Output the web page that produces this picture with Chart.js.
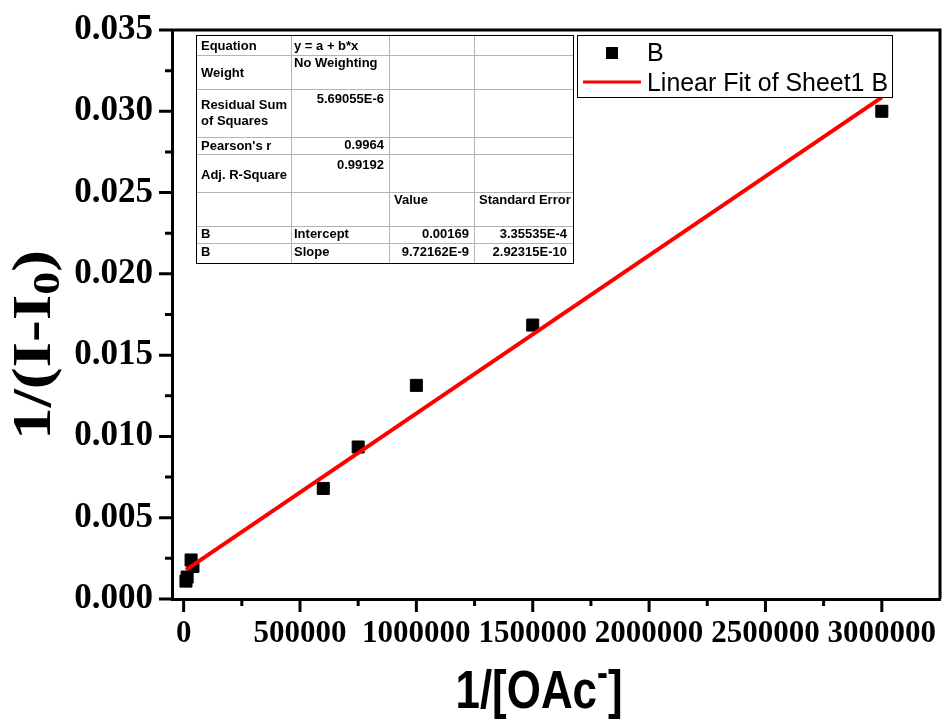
<!DOCTYPE html>
<html>
<head>
<meta charset="utf-8">
<script src="https://cdn.jsdelivr.net/npm/chart.js@4.4.1/dist/chart.umd.min.js"></script>
<style>
  html, body { margin: 0; padding: 0; background: #fff; }
  #wrap { width: 944px; height: 722px; }
</style>
</head>
<body>
<div id="wrap"><canvas id="fitChart" width="944" height="722"></canvas></div>
<script>
const xValues = [10000, 15000, 32000, 40000, 600000, 750000, 1000000, 1500000, 3000000];
const yValues = [0.00110, 0.00135, 0.00240, 0.00200, 0.00680, 0.00935, 0.01314, 0.01685, 0.03000];

// linear fit end points
const fitX = [10000, 3000000];
const fitY = [0.00179, 0.03086];

// ticks
const xTicks = [0, 500000, 1000000, 1500000, 2000000, 2500000, 3000000];
const xMinorTicks = [250000, 750000, 1250000, 1750000, 2250000, 2750000];
const yTicks = [0, 0.005, 0.010, 0.015, 0.020, 0.025, 0.030, 0.035];
const yMinorTicks = [0.0025, 0.0075, 0.0125, 0.0175, 0.0225, 0.0275, 0.0325];

// fit report table
const tableText = [
    ['Equation', 'y = a + b*x', '', ''],
    ['Weight', 'No Weighting', '', ''],
    ['Residual Sum|of Squares', '5.69055E-6', '', ''],
    ["Pearson's r", '0.9964', '', ''],
    ['Adj. R-Square', '0.99192', '', ''],
    ['', '', 'Value', 'Standard Error'],
    ['B', 'Intercept', '0.00169', '3.35535E-4'],
    ['B', 'Slope', '9.72162E-9', '2.92315E-10']
];
const legendLabels = ['B', 'Linear Fit of Sheet1 B'];

const points = xValues.map((x, i) => ({ x: x, y: yValues[i] }));
const fitLine = fitX.map((x, i) => ({ x: x, y: fitY[i] }));

// draw runs of text, centred on x, squeezed/stretched to a width
function drawRuns(ctx, runs, x, y, targetW) {
    let w = 0;
    runs.forEach(r => { ctx.font = r.font; r.w = ctx.measureText(r.t).width; w += r.w; });
    const s = targetW ? targetW / w : 1;
    ctx.save();
    ctx.translate(x, y);
    ctx.scale(s, 1);
    ctx.textAlign = 'left';
    ctx.textBaseline = 'alphabetic';
    let cx = -w / 2;
    runs.forEach(r => { ctx.font = r.font; ctx.fillText(r.t, cx, r.dy || 0); cx += r.w; });
    ctx.restore();
}

function fitText(ctx, text, x, y, targetW) {
    const w = ctx.measureText(text).width;
    ctx.save();
    ctx.translate(x, y);
    ctx.scale(targetW / w, 1);
    ctx.fillText(text, 0, 0);
    ctx.restore();
}

const decorPlugin = {
    id: 'decor',
    afterDraw(chart) {
        const ctx = chart.ctx;
        const a = chart.chartArea;
        const xs = chart.scales.x, ys = chart.scales.y;
        ctx.save();
        ctx.strokeStyle = '#000';
        ctx.fillStyle = '#000';

        // top and right frame
        ctx.lineWidth = 3;
        ctx.beginPath();
        ctx.moveTo(a.left, a.top); ctx.lineTo(a.right, a.top);
        ctx.lineTo(a.right, a.bottom);
        ctx.stroke();

        // ticks
        ctx.lineWidth = 3;
        ctx.beginPath();
        yTicks.forEach(v => { const p = ys.getPixelForValue(v); ctx.moveTo(a.left - 13, p); ctx.lineTo(a.left, p); });
        yMinorTicks.forEach(v => { const p = ys.getPixelForValue(v); ctx.moveTo(a.left - 7, p); ctx.lineTo(a.left, p); });
        xTicks.forEach(v => { const p = xs.getPixelForValue(v); ctx.moveTo(p, a.bottom); ctx.lineTo(p, a.bottom + 13); });
        xMinorTicks.forEach(v => { const p = xs.getPixelForValue(v); ctx.moveTo(p, a.bottom); ctx.lineTo(p, a.bottom + 7); });
        ctx.stroke();

        // fit table
        const tl = 196, tt = 35, tr = 573, tb = 263;
        const colX = [291, 389, 474];
        const rowY = [55, 89, 137, 154, 192, 226, 243];
        ctx.fillStyle = '#fff';
        ctx.fillRect(tl, tt, tr - tl, tb - tt);
        ctx.lineWidth = 1;
        ctx.strokeStyle = '#b4b4b4';
        ctx.beginPath();
        colX.forEach(x => { ctx.moveTo(x + 0.5, tt); ctx.lineTo(x + 0.5, tb); });
        rowY.forEach(y => { ctx.moveTo(tl, y + 0.5); ctx.lineTo(tr, y + 0.5); });
        ctx.stroke();
        ctx.strokeStyle = '#000';
        ctx.strokeRect(tl + 0.5, tt + 0.5, tr - tl, tb - tt);

        ctx.fillStyle = '#000';
        ctx.font = 'bold 13px "Liberation Sans", Arial, sans-serif';
        ctx.textBaseline = 'middle';
        // [row, col, x, y, align]
        const cells = [
            [0, 0, 201, 46, 'left'], [0, 1, 294, 46, 'left'],
            [1, 0, 201, 73, 'left'], [1, 1, 294, 63, 'left'],
            [2, 1, 384, 99, 'right'],
            [3, 0, 201, 146, 'left'], [3, 1, 384, 145, 'right'],
            [4, 0, 201, 175, 'left'], [4, 1, 384, 165, 'right'],
            [5, 2, 394, 200, 'left'], [5, 3, 479, 200, 'left'],
            [6, 0, 201, 234, 'left'], [6, 1, 294, 234, 'left'], [6, 2, 469, 234, 'right'], [6, 3, 567, 234, 'right'],
            [7, 0, 201, 252, 'left'], [7, 1, 294, 252, 'left'], [7, 2, 469, 252, 'right'], [7, 3, 567, 252, 'right']
        ];
        cells.forEach(c => {
            ctx.textAlign = c[4];
            ctx.fillText(tableText[c[0]][c[1]], c[2], c[3]);
        });
        const rss = tableText[2][0].split('|');
        ctx.textAlign = 'left';
        ctx.fillText(rss[0], 201, 105);
        ctx.fillText(rss[1], 201, 121);

        // legend
        ctx.fillStyle = '#fff';
        ctx.fillRect(577, 35, 316, 63);
        ctx.strokeStyle = '#000';
        ctx.lineWidth = 1;
        ctx.strokeRect(577.5, 35.5, 315, 62);
        ctx.fillStyle = '#000';
        ctx.fillRect(606, 47, 12, 12);
        ctx.strokeStyle = '#ff0000';
        ctx.lineWidth = 3;
        ctx.beginPath(); ctx.moveTo(583, 82); ctx.lineTo(641, 82); ctx.stroke();
        ctx.fillStyle = '#000';
        ctx.textAlign = 'left';
        ctx.textBaseline = 'alphabetic';
        ctx.font = '25px "Liberation Sans", Arial, sans-serif';
        ctx.fillText(legendLabels[0], 647, 61);
        fitText(ctx, legendLabels[1], 647, 91, 241);

        // axis titles
        const serif = '"Liberation Serif", "Times New Roman", serif';
        ctx.save();
        ctx.translate(50, 345);
        ctx.rotate(-Math.PI / 2);
        drawRuns(ctx, [
            { t: '1/(I-I', font: 'bold 54px ' + serif },
            { t: '0', font: 'bold 38px ' + serif, dy: 9 },
            { t: ')', font: 'bold 54px ' + serif }
        ], 0, 0, 190);
        ctx.restore();

        const sans = '"Liberation Sans", Arial, sans-serif';
        drawRuns(ctx, [
            { t: '1/[OAc', font: 'bold 54px ' + sans },
            { t: '-', font: 'bold 40px ' + sans, dy: -22 },
            { t: ']', font: 'bold 54px ' + sans }
        ], 539, 708, 167);

        ctx.restore();
    }
};

new Chart(document.getElementById('fitChart'), {
    type: 'scatter',
    data: {
        datasets: [{
            label: legendLabels[1],
            data: fitLine,
            showLine: true,
            borderColor: '#ff0000',
            borderWidth: 4,
            pointRadius: 0,
            order: 0
        }, {
            label: legendLabels[0],
            data: points,
            pointStyle: 'rect',
            pointRadius: 8.5,
            pointBackgroundColor: '#000',
            pointBorderColor: '#000',
            pointBorderWidth: 1,
            order: 1
        }]
    },
    options: {
        responsive: false,
        animation: false,
        devicePixelRatio: 1,
        layout: { autoPadding: false, padding: { top: 30, right: 4, left: 0, bottom: 0 } },
        plugins: { legend: { display: false }, tooltip: { enabled: false } },
        scales: {
            x: {
                type: 'linear',
                min: -50000,
                max: 3250000,
                afterBuildTicks: s => { s.ticks = xTicks.map(v => ({ value: v })); },
                afterFit: s => { s.height = 123; s.paddingLeft = 0; s.paddingRight = 0; },
                grid: { display: false },
                border: { display: true, color: '#000', width: 3 },
                ticks: {
                    color: '#000',
                    padding: 8,
                    maxRotation: 0,
                    autoSkip: false,
                    font: { family: '"Liberation Serif", "Times New Roman", serif', size: 31, weight: 'bold' },
                    callback: v => String(v)
                }
            },
            y: {
                type: 'linear',
                min: 0,
                max: 0.035,
                afterBuildTicks: s => { s.ticks = yTicks.map(v => ({ value: v })); },
                afterFit: s => { s.width = 172; s.paddingTop = 0; s.paddingBottom = 0; },
                grid: { display: false },
                border: { display: true, color: '#000', width: 3 },
                ticks: {
                    color: '#000',
                    padding: 11,
                    autoSkip: false,
                    font: { family: '"Liberation Serif", "Times New Roman", serif', size: 35, weight: 'bold' },
                    callback: v => v.toFixed(3)
                }
            }
        }
    },
    plugins: [decorPlugin]
});
</script>
</body>
</html>
